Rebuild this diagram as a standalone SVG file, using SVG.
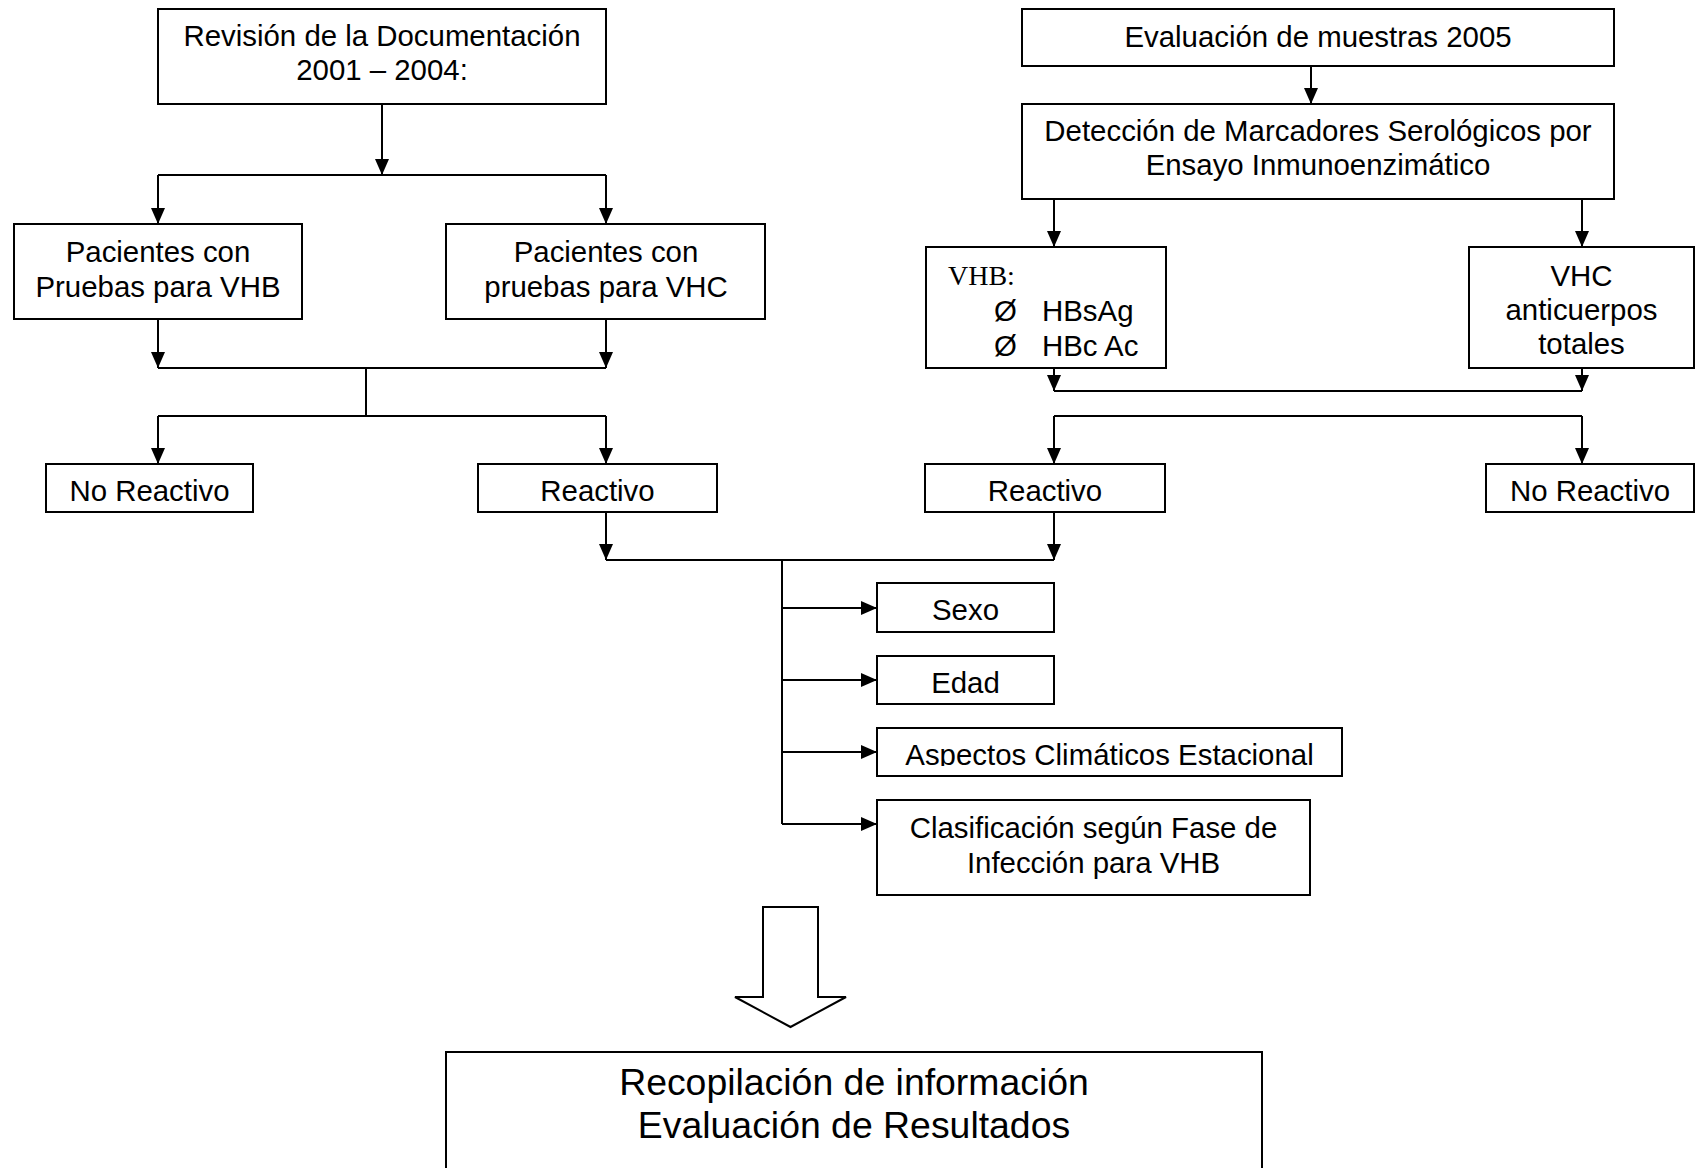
<svg xmlns="http://www.w3.org/2000/svg" width="1697" height="1168" viewBox="0 0 1697 1168">
<style>
.box{fill:#fff;stroke:#000;stroke-width:2}
.t{font-family:"Liberation Sans",Arial,sans-serif;font-size:29.4px;fill:#000;text-anchor:middle}
.tl{font-family:"Liberation Sans",Arial,sans-serif;font-size:29.4px;fill:#000}
.big{font-family:"Liberation Sans",Arial,sans-serif;font-size:37.4px;fill:#000;text-anchor:middle}
.ser{font-family:"Liberation Serif","Times New Roman",serif;font-size:28px;fill:#000}
.c{stroke:#000;stroke-width:2;fill:none}
.a{stroke:#000;stroke-width:2;fill:none;marker-end:url(#ah)}
</style>
<defs>
<marker id="ah" markerUnits="userSpaceOnUse" markerWidth="16" markerHeight="14" viewBox="0 0 16 14" refX="16" refY="7" orient="auto">
<path d="M0,0 L16,7 L0,14 z" fill="#000"/>
</marker>
<clipPath id="clipAsp"><rect x="877" y="728" width="465" height="38"/></clipPath>
</defs>
<rect width="1697" height="1168" fill="#fff"/>

<g id="connectors">
<path class="a" d="M382,104 V175"/>
<path class="c" d="M158,175 H606"/>
<path class="a" d="M158,175 V224"/>
<path class="a" d="M606,175 V224"/>
<path class="a" d="M158,319 V368"/>
<path class="a" d="M606,319 V368"/>
<path class="c" d="M158,368 H606"/>
<path class="c" d="M366,368 V416"/>
<path class="c" d="M158,416 H606"/>
<path class="a" d="M158,416 V464"/>
<path class="a" d="M606,416 V464"/>
<path class="a" d="M606,512 V560"/>
<path class="a" d="M1054,512 V560"/>
<path class="c" d="M606,560 H1054"/>
<path class="c" d="M782,560 V824"/>
<path class="a" d="M782,608 H877"/>
<path class="a" d="M782,680 H877"/>
<path class="a" d="M782,752 H877"/>
<path class="a" d="M782,824 H877"/>
<path class="a" d="M1311,66 V104"/>
<path class="a" d="M1054,199 V247"/>
<path class="a" d="M1582,199 V247"/>
<path class="a" d="M1054,368 V391"/>
<path class="a" d="M1582,368 V391"/>
<path class="c" d="M1054,391 H1582"/>
<path class="c" d="M1054,416 H1582"/>
<path class="a" d="M1054,416 V464"/>
<path class="a" d="M1582,416 V464"/>
<polygon class="box" points="763,907 818,907 818,997 846,997 790.5,1027 735,997 763,997"/>
</g>

<g id="revision">
<rect class="box" x="158" y="9" width="448" height="95"/>
<text class="t" x="382" y="46">Revisión de la Documentación</text>
<text class="t" x="382" y="80">2001 – 2004:</text>
</g>
<g id="pacientes-vhb">
<rect class="box" x="14" y="224" width="288" height="95"/>
<text class="t" x="158" y="262">Pacientes con</text>
<text class="t" x="158" y="297">Pruebas para VHB</text>
</g>
<g id="pacientes-vhc">
<rect class="box" x="446" y="224" width="319" height="95"/>
<text class="t" x="606" y="262">Pacientes con</text>
<text class="t" x="606" y="297">pruebas para VHC</text>
</g>
<g id="no-reactivo-1">
<rect class="box" x="46" y="464" width="207" height="48"/>
<text class="t" x="149.5" y="501">No Reactivo</text>
</g>
<g id="reactivo-1">
<rect class="box" x="478" y="464" width="239" height="48"/>
<text class="t" x="597.5" y="501">Reactivo</text>
</g>
<g id="evaluacion">
<rect class="box" x="1022" y="9" width="592" height="57"/>
<text class="t" x="1318" y="47">Evaluación de muestras 2005</text>
</g>
<g id="deteccion">
<rect class="box" x="1022" y="104" width="592" height="95"/>
<text class="t" x="1318" y="141">Detección de Marcadores Serológicos por</text>
<text class="t" x="1318" y="175">Ensayo Inmunoenzimático</text>
</g>
<g id="vhb">
<rect class="box" x="926" y="247" width="240" height="121"/>
<text class="ser" x="948" y="285">VHB:</text>
<text class="tl" x="994" y="321">Ø</text>
<text class="tl" x="1042" y="321">HBsAg</text>
<text class="tl" x="994" y="356">Ø</text>
<text class="tl" x="1042" y="356">HBc Ac</text>
</g>
<g id="vhc">
<rect class="box" x="1469" y="247" width="225" height="121"/>
<text class="t" x="1581.5" y="286">VHC</text>
<text class="t" x="1581.5" y="320">anticuerpos</text>
<text class="t" x="1581.5" y="354">totales</text>
</g>
<g id="reactivo-2">
<rect class="box" x="925" y="464" width="240" height="48"/>
<text class="t" x="1045" y="501">Reactivo</text>
</g>
<g id="no-reactivo-2">
<rect class="box" x="1486" y="464" width="208" height="48"/>
<text class="t" x="1590" y="501">No Reactivo</text>
</g>
<g id="sexo">
<rect class="box" x="877" y="583" width="177" height="49"/>
<text class="t" x="965.5" y="620">Sexo</text>
</g>
<g id="edad">
<rect class="box" x="877" y="656" width="177" height="48"/>
<text class="t" x="965.5" y="693">Edad</text>
</g>
<g id="aspectos">
<rect class="box" x="877" y="728" width="465" height="48"/>
<text class="t" x="1109.5" y="765" clip-path="url(#clipAsp)">Aspectos Climáticos Estacional</text>
</g>
<g id="clasificacion">
<rect class="box" x="877" y="800" width="433" height="95"/>
<text class="t" x="1093.5" y="838">Clasificación según Fase de</text>
<text class="t" x="1093.5" y="873">Infección para VHB</text>
</g>
<g id="recopilacion">
<rect class="box" x="446" y="1052" width="816" height="140"/>
<text class="big" x="854" y="1095">Recopilación de información</text>
<text class="big" x="854" y="1138">Evaluación de Resultados</text>
</g>
</svg>
